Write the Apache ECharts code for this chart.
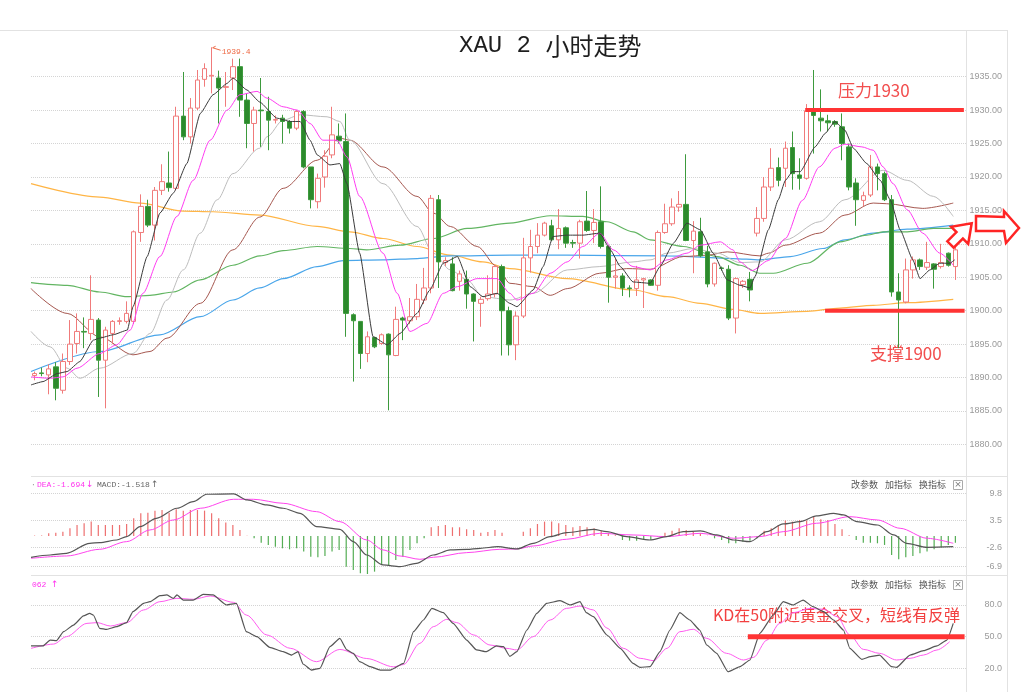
<!DOCTYPE html>
<html><head><meta charset="utf-8">
<script src="https://cdn.jsdelivr.net/npm/echarts@6/dist/echarts.min.js"></script>
<style>html,body{margin:0;padding:0;background:#fff}#c{width:1024px;height:692px}</style>
</head><body><div id="c"></div>
<script>
// ---------- candles (2-hour XAU) ----------
const opens = [1890.3,1890.7,1890.4,1891.6,1888.1,1892.4,1895.1,1896.9,1896.6,1898.6,
1892.6,1896.6,1898.4,1898.4,1898.4,1911.7,1915.6,1912.8,1918.0,1919.1,
1918.3,1929.1,1926.0,1930.3,1934.6,1935.1,1934.8,1933.4,1934.8,1936.5,
1931.5,1928.0,1930.0,1929.8,1928.5,1928.8,1928.3,1927.3,1929.8,1921.5,
1916.3,1920.0,1923.3,1926.1,1925.3,1899.4,1898.4,1893.6,1896.0,1895.1,
1896.5,1893.3,1898.9,1898.5,1899.1,1901.6,1903.4,1916.6,1907.2,1907.0,
1904.4,1904.7,1902.5,1901.1,1901.8,1902.5,1906.6,1900.0,1894.9,1899.2,
1907.9,1909.6,1911.3,1912.7,1910.6,1912.4,1910.2,1910.1,1913.4,1912.0,
1913.3,1909.6,1905.0,1905.2,1903.4,1903.3,1904.6,1904.6,1903.8,1911.7,
1913.0,1915.5,1915.9,1910.5,1911.8,1908.8,1904.0,1906.4,1906.2,1898.9,
1903.9,1904.7,1911.6,1913.8,1918.5,1921.4,1921.3,1924.4,1920.3,1919.8,
1930.0,1928.8,1928.4,1928.3,1927.5,1924.5,1919.1,1916.5,1917.3,1921.5,
1920.5,1916.6,1902.8,1901.3,1906.1,1907.6,1906.5,1907.0,1906.6,1908.6,
1906.6];
const closes = [1890.6,1890.6,1891.3,1888.4,1892.4,1895.0,1896.9,1896.8,1898.7,1892.6,
1897.1,1898.4,1898.5,1899.6,1911.8,1915.6,1912.8,1918.0,1919.3,1918.4,
1929.1,1926.0,1930.3,1934.5,1936.2,1935.2,1933.3,1933.5,1936.5,1931.5,
1928.0,1930.0,1929.9,1928.5,1928.6,1928.3,1927.3,1929.8,1921.5,1916.6,
1919.8,1923.1,1926.3,1925.4,1899.6,1898.5,1893.6,1896.1,1894.6,1896.4,
1893.4,1898.7,1898.6,1899.1,1901.7,1903.4,1916.8,1907.3,1907.5,1903.0,
1905.5,1902.5,1901.4,1901.7,1902.5,1906.6,1900.0,1894.9,1899.2,1907.9,
1909.6,1911.3,1913.1,1910.6,1912.3,1910.1,1910.1,1913.3,1912.0,1913.2,
1909.6,1905.0,1905.2,1903.4,1903.3,1904.6,1904.8,1903.8,1911.7,1913.0,
1915.5,1915.9,1910.5,1911.9,1908.2,1904.0,1907.1,1906.3,1898.9,1904.8,
1904.4,1903.1,1913.8,1918.5,1921.3,1919.5,1924.3,1920.5,1919.8,1929.9,
1929.2,1928.4,1928.1,1927.9,1925.0,1918.5,1916.6,1917.2,1921.5,1920.5,
1916.6,1902.8,1901.6,1906.1,1907.6,1906.6,1907.2,1906.2,1907.2,1906.8,
1909.1];
const lows = [1889.6,1890.2,1887.5,1886.6,1887.6,1891.9,1893.6,1894.4,1895.6,1887.1,
1885.4,1895.0,1897.9,1898.1,1898.0,1910.3,1912.5,1910.5,1917.3,1917.8,
1918.0,1925.5,1925.0,1930.0,1933.5,1932.5,1928.0,1930.5,1933.0,1929.0,
1924.3,1923.8,1924.5,1924.0,1928.0,1925.0,1926.5,1927.0,1921.3,1915.3,
1915.3,1918.4,1922.8,1925.0,1896.1,1889.4,1891.3,1892.3,1894.4,1894.9,
1885.1,1893.2,1895.6,1898.0,1898.6,1901.0,1902.6,1903.4,1906.7,1902.9,
1903.0,1900.3,1895.4,1897.6,1901.5,1902.0,1893.3,1893.3,1892.6,1898.9,
1905.7,1908.6,1911.1,1910.4,1909.2,1909.4,1909.4,1907.8,1911.8,1910.1,
1909.3,1901.2,1903.3,1902.2,1902.0,1902.2,1900.4,1903.7,1903.0,1911.5,
1912.7,1914.8,1910.4,1905.6,1908.0,1903.5,1903.6,1906.0,1898.6,1896.6,
1903.4,1901.4,1911.1,1913.3,1917.9,1918.6,1918.5,1918.1,1918.1,1919.6,
1923.5,1926.8,1926.8,1927.5,1922.5,1918.0,1912.7,1915.6,1917.0,1918.0,
1916.4,1902.1,1894.4,1901.1,1904.8,1906.1,1906.1,1903.3,1906.3,1906.6,
1904.6];
const highs = [1890.9,1891.5,1892.0,1892.3,1893.6,1898.6,1899.6,1899.0,1905.3,1898.9,
1897.6,1898.6,1899.0,1901.4,1912.0,1917.4,1916.6,1918.5,1921.9,1923.8,
1930.5,1935.7,1931.8,1936.0,1937.0,1939.4,1935.9,1935.7,1937.7,1937.7,
1932.5,1930.5,1934.8,1932.0,1929.2,1929.3,1928.5,1930.0,1930.0,1921.5,
1920.5,1924.0,1930.5,1928.0,1929.5,1899.6,1898.4,1896.9,1896.1,1896.6,
1896.6,1900.6,1899.1,1901.9,1904.0,1906.4,1917.3,1917.3,1908.0,1908.0,
1906.0,1906.0,1902.6,1902.1,1905.3,1906.9,1906.9,1900.6,1899.9,1910.9,
1912.1,1913.1,1913.3,1913.6,1915.2,1912.6,1910.6,1913.6,1917.9,1915.2,
1918.6,1909.8,1907.8,1905.6,1903.8,1906.7,1904.9,1904.7,1912.0,1916.0,
1916.8,1917.9,1923.4,1913.4,1913.9,1909.7,1907.2,1906.6,1906.8,1905.0,
1904.6,1905.8,1915.5,1920.0,1924.3,1922.9,1925.3,1926.8,1922.8,1930.9,
1936.0,1933.1,1929.3,1928.5,1929.5,1925.0,1919.8,1917.8,1923.3,1922.0,
1920.8,1917.3,1905.6,1907.8,1908.1,1907.8,1910.3,1907.1,1910.0,1908.7,
1909.8];

// ---------- moving averages: [candle index, price] ----------
const maBlack = [[-0.5,1888.9],[1.2,1889.4],[3.2,1890.6],[4.6,1890.9],[6.4,1892.4],[8.3,1895.6],[9.2,1895.9],[11.1,1896.4],[13.1,1897.1],[13.9,1900.6],[15.9,1908.1],[17.7,1914.6],[19.6,1917.6],[21.5,1922.0],[23.4,1929.5],[25.2,1932.3],[27.2,1934.0],[28.0,1934.8],[30.0,1933.0],[31.8,1931.2],[34.2,1928.8],[36.1,1928.3],[37.5,1928.3],[38.9,1925.5],[39.9,1923.3],[41.7,1921.8],[43.1,1922.0],[44.1,1919.0],[45.9,1908.6],[47.8,1896.1],[49.8,1894.9],[51.6,1896.6],[54.0,1899.6],[55.8,1903.1],[57.7,1907.1],[59.7,1908.1],[61.5,1903.6],[63.3,1902.1],[65.3,1902.6],[67.1,1901.1],[68.1,1900.6],[70.4,1903.1],[71.8,1906.6],[73.2,1911.1],[75.2,1911.3],[77.4,1911.3],[79.8,1911.6],[81.3,1909.1],[82.7,1906.6],[84.5,1904.3],[86.9,1904.1],[88.3,1906.6],[90.2,1910.1],[92.1,1913.1],[94.0,1912.1],[95.8,1908.6],[97.8,1904.6],[99.6,1903.8],[101.0,1903.4],[101.7,1905.1],[103.6,1912.1],[105.0,1916.6],[106.0,1919.5],[107.0,1920.8],[108.1,1920.8],[110.2,1924.5],[111.6,1926.5],[113.0,1928.3],[114.4,1927.0],[115.6,1924.3],[117.5,1922.0],[119.4,1919.5],[120.8,1916.6],[122.2,1912.1],[124.0,1907.6],[125.0,1904.8],[126.4,1906.1],[127.8,1907.1],[129.2,1907.1],[129.9,1907.6]];
const maPink = [[-0.5,1890.1],[2.2,1889.9],[4.0,1890.1],[6.0,1891.4],[9.2,1893.6],[11.6,1894.9],[13.5,1897.1],[15.3,1902.6],[17.7,1908.1],[20.1,1914.1],[22.4,1919.5],[24.8,1925.5],[27.2,1930.0],[29.0,1932.3],[31.4,1932.8],[32.8,1931.8],[35.1,1930.5],[37.1,1930.0],[38.9,1928.0],[40.7,1925.5],[42.7,1925.5],[44.1,1923.0],[45.9,1917.1],[49.2,1908.6],[51.2,1902.6],[53.0,1896.9],[55.4,1898.1],[57.7,1902.6],[59.7,1903.6],[62.5,1904.8],[65.3,1904.8],[67.1,1902.6],[68.1,1901.6],[70.4,1902.6],[72.8,1905.6],[75.2,1907.3],[77.4,1909.6],[79.8,1911.6],[81.7,1909.1],[84.5,1906.6],[86.9,1906.1],[89.3,1907.6],[92.1,1908.6],[94.0,1909.8],[96.8,1910.3],[98.6,1909.1],[99.6,1907.3],[101.3,1906.0],[103.6,1907.5],[106.0,1910.8],[108.4,1916.5],[110.8,1921.5],[113.0,1924.3],[114.4,1924.9],[116.8,1924.5],[118.4,1924.0],[119.8,1921.5],[121.2,1919.0],[123.2,1915.1],[125.4,1911.6],[127.8,1908.6],[129.7,1906.8]];
const maGray = [[-0.5,1896.9],[2.2,1894.6],[4.6,1891.4],[6.4,1889.9],[9.2,1891.4],[13.9,1893.6],[16.3,1896.6],[18.7,1901.6],[21.0,1906.1],[23.4,1911.6],[25.8,1916.6],[28.0,1920.5],[31.8,1924.3],[32.8,1926.0],[35.1,1928.5],[37.5,1929.3],[41.3,1929.0],[43.1,1928.3],[44.5,1925.5],[49.2,1919.0],[54.0,1912.6],[56.3,1908.6],[58.7,1906.1],[61.1,1904.6],[63.3,1902.1],[67.1,1901.6],[70.4,1902.6],[75.2,1906.1],[79.8,1906.6],[84.5,1907.3],[86.9,1907.6],[89.3,1908.6],[93.0,1909.3],[96.4,1908.6],[99.6,1907.2],[102.4,1907.3],[106.0,1910.6],[110.8,1913.3],[114.4,1916.6],[119.8,1921.0],[123.2,1919.5],[126.9,1917.1],[129.7,1914.1]];
const maBrown = [[-0.5,1903.3],[4.6,1899.6],[9.2,1896.1],[13.9,1893.4],[16.3,1893.9],[18.7,1895.9],[23.4,1901.1],[28.0,1909.1],[31.8,1914.0],[35.1,1918.3],[39.9,1922.5],[43.1,1925.8],[44.5,1925.5],[49.2,1921.5],[54.0,1917.1],[56.3,1914.6],[58.7,1912.6],[62.5,1909.6],[65.3,1906.6],[67.1,1904.1],[70.4,1903.6],[72.8,1902.3],[75.2,1903.3],[79.8,1905.6],[83.6,1906.3],[86.9,1906.2],[91.6,1908.1],[95.0,1908.3],[97.8,1908.8],[102.4,1908.2],[103.6,1908.6],[106.0,1909.8],[110.8,1911.6],[114.4,1914.3],[118.4,1916.1],[120.3,1916.0],[125.4,1915.3],[129.7,1916.1]];
const maGreen = [[-0.5,1904.2],[4.6,1903.8],[9.2,1902.8],[13.1,1902.1],[16.3,1902.3],[19.6,1902.8],[23.4,1904.6],[28.0,1906.8],[31.8,1908.2],[35.1,1909.0],[39.9,1909.6],[44.5,1909.3],[46.9,1909.1],[51.6,1909.8],[56.3,1910.8],[61.1,1912.3],[67.1,1913.1],[72.8,1914.2],[77.4,1914.1],[80.8,1913.3],[84.5,1911.8],[86.9,1910.6],[91.6,1909.6],[96.4,1908.1],[99.6,1906.8],[102.4,1905.6],[104.3,1905.6],[109.1,1907.1],[113.7,1910.3],[117.5,1911.3],[119.8,1911.8],[123.2,1911.8],[126.9,1912.3],[129.7,1912.3]];
const maBlue = [[-0.5,1890.9],[9.2,1893.9],[17.7,1896.4],[23.4,1899.1],[28.0,1901.6],[31.8,1903.4],[35.1,1904.8],[39.9,1906.6],[43.6,1907.5],[49.2,1907.6],[54.0,1907.8],[58.7,1908.2],[67.1,1908.3],[75.2,1908.3],[89.3,1908.2],[98.6,1907.8],[102.4,1907.6],[106.7,1908.1],[111.3,1909.3],[114.4,1910.6],[118.4,1911.6],[123.2,1912.2],[129.7,1912.8]];
const maOrange = [[-0.5,1919.0],[9.2,1917.0],[14.9,1916.1],[21.0,1914.9],[25.2,1914.8],[31.8,1914.3],[39.9,1912.6],[44.5,1911.8],[49.2,1910.8],[54.0,1909.6],[58.7,1908.3],[63.3,1907.3],[67.1,1906.3],[75.2,1904.8],[84.5,1903.1],[89.3,1902.1],[94.0,1901.1],[98.6,1900.2],[102.4,1899.6],[109.1,1899.9],[113.7,1900.4],[118.4,1900.8],[123.2,1901.2],[129.7,1901.7]];

// ---------- MACD ----------
const macdHist = [0.1,0.1,0.61,0.76,0.99,1.76,2.52,2.9,3.29,2.52,
2.52,2.52,2.52,2.75,4.05,5.2,5.35,5.81,5.96,5.35,
6.12,5.81,5.96,5.96,5.81,5.2,4.05,3.06,2.52,1.38,
0.05,-0.54,-1.53,-2.06,-2.45,-2.83,-3.06,-2.83,-3.59,-4.74,
-4.89,-4.59,-3.59,-3.21,-7.03,-7.8,-8.56,-8.72,-8.18,-6.65,
-6.65,-5.5,-4.74,-3.21,-1.68,-0.54,1.99,2.29,2.52,1.99,
1.99,1.53,1.38,0.76,0.92,1.38,0.76,0,0,0.99,
1.76,2.75,3.29,3.29,2.9,2.52,1.99,2.29,1.99,1.76,
1.22,0.61,0.15,-0.92,-1.07,-1.07,-0.92,-0.92,-0.15,0.76,
1.22,1.76,1.38,0.99,0.61,0.05,-0.54,-0.92,-1.68,-1.68,
-1.3,-1.07,-0.54,1.22,1.76,2.52,3.52,3.29,3.67,3.52,
4.43,3.82,3.67,2.75,1.53,0.15,-0.92,-1.53,-1.53,-1.68,
-2.06,-4.36,-5.35,-4.89,-4.59,-3.98,-3.59,-3.06,-2.6,-2.06,
-1.53];
const macdDif = [[-0.5,-4.89],[2.2,-4.36],[4.5,-3.98],[7.8,-1.68],[9.2,-1.53],[11.6,-0.92],[13.0,-0.15],[14.9,2.14],[17.2,4.05],[20.1,6.35],[22.4,7.87],[24.3,9.56],[28.1,9.63],[30.0,8.26],[32.8,7.11],[35.1,6.35],[37.5,5.2],[39.8,2.14],[43.1,1.53],[45.0,-1.3],[46.9,-4.36],[49.2,-6.65],[51.6,-7.03],[53.9,-6.27],[56.3,-4.36],[58.7,-3.21],[61.0,-3.06],[62.9,-2.83],[65.4,-2.45],[68.1,-2.98],[70.4,-1.68],[72.8,-0.15],[75.1,0.76],[78.9,1.53],[80.8,0.99],[83.6,-0.15],[86.9,-0.92],[89.2,-0.15],[91.6,0.99],[94.0,1.15],[96.3,0.23],[98.7,-0.92],[101.0,-1.3],[103.4,0.99],[105.7,2.75],[108.1,3.29],[110.4,4.59],[112.8,5.2],[114.2,4.82],[116.1,3.29],[119.0,2.52],[121.3,0.23],[123.1,-1.68],[126.0,-2.6],[129.7,-2.45]];
const macdDea = [[-0.5,-5.12],[4.5,-4.59],[9.2,-3.06],[13.0,-1.3],[16.3,1.38],[19.6,3.67],[23.4,6.35],[28.1,8.41],[30.9,8.41],[35.1,7.49],[39.8,5.58],[43.1,3.29],[46.9,-0.92],[49.2,-3.21],[51.6,-4.59],[54.4,-5.35],[56.3,-4.89],[61.0,-3.82],[65.7,-3.06],[68.1,-2.98],[70.4,-2.29],[75.1,-0.76],[79.8,0.61],[84.5,0.23],[89.2,-0.15],[94.0,0.61],[98.7,-0.53],[102.4,-0.15],[105.7,0.99],[110.4,2.91],[115.1,4.43],[119.0,3.67],[122.2,1.76],[126.0,-0.53],[129.7,-1.68]];

// ---------- KD ----------
const kdK = [[-0.5,41.2],[1.2,41.2],[2.2,46.8],[3.1,46.2],[4.1,54.7],[5.5,61.0],[6.9,69.6],[7.8,72.1],[8.3,70.5],[9.2,57.9],[10.2,56.9],[11.6,59.5],[13.0,63.3],[13.9,73.7],[15.4,81.6],[16.3,83.1],[17.7,88.8],[18.7,89.5],[19.6,86.3],[20.1,89.5],[21.0,84.7],[22.4,84.7],[23.8,90.1],[25.2,89.5],[27.1,80.0],[28.5,81.6],[29.9,54.7],[31.4,50.0],[33.2,39.9],[35.1,35.8],[36.3,32.6],[37.2,35.8],[37.9,24.1],[39.1,18.4],[40.3,20.0],[41.7,40.5],[43.1,48.4],[44.1,37.4],[45.0,34.2],[45.9,26.3],[47.4,21.6],[48.8,18.4],[50.2,18.4],[52.1,24.7],[53.5,54.7],[54.9,65.8],[56.1,76.8],[57.7,72.7],[59.1,62.6],[61.0,46.8],[62.4,37.4],[63.8,35.8],[65.2,41.2],[66.2,40.5],[67.1,31.4],[68.1,35.8],[69.5,56.3],[70.9,72.1],[72.3,81.6],[74.2,84.1],[75.6,80.0],[77.0,83.1],[77.9,72.7],[78.9,68.9],[80.8,51.6],[82.7,38.9],[84.5,24.7],[85.5,20.9],[86.9,21.6],[88.3,35.8],[89.7,56.3],[91.1,72.7],[92.5,65.8],[93.9,56.3],[94.9,42.1],[96.3,34.2],[97.9,16.8],[99.6,21.6],[101.0,27.9],[102.4,53.2],[104.3,70.5],[105.7,83.1],[107.1,80.0],[108.5,84.7],[109.9,78.4],[111.4,73.7],[112.8,65.8],[114.2,56.3],[115.1,38.9],[116.8,28.5],[118.0,31.1],[119.3,32.6],[121.0,21.6],[121.7,20.9],[123.6,32.6],[125.5,36.7],[127.4,41.2],[128.8,46.8],[129.7,62.6]];
const kdD = [[-0.5,38.9],[2.7,43.0],[4.5,50.0],[7.4,62.6],[8.8,63.3],[10.7,60.1],[13.0,63.3],[15.4,75.3],[17.7,83.1],[20.1,86.3],[22.4,85.4],[24.8,88.5],[28.1,82.5],[29.9,70.5],[32.8,51.6],[36.1,39.0],[39.8,26.3],[43.1,37.9],[46.9,29.3],[50.7,21.4],[52.1,23.6],[54.4,43.7],[56.3,59.5],[58.2,66.4],[59.6,63.3],[62.0,51.6],[64.3,42.1],[66.7,38.9],[68.1,37.4],[70.4,50.0],[72.8,65.8],[75.1,76.8],[77.0,79.0],[78.9,75.3],[80.8,58.2],[83.1,39.0],[85.5,29.5],[87.4,27.3],[89.3,39.0],[91.1,54.7],[93.0,57.0],[94.9,48.4],[97.7,34.2],[100.1,27.9],[101.5,30.4],[103.4,46.8],[105.2,62.6],[107.1,72.7],[109.5,76.8],[111.4,75.9],[113.3,69.0],[115.1,51.6],[117.0,38.0],[119.3,34.2],[121.7,27.9],[123.6,29.5],[125.5,32.6],[127.4,37.4],[129.2,45.3]];

// ---------- ticks & annotations ----------
const priceTicks = [1880,1885,1890,1895,1900,1905,1910,1915,1920,1925,1930,1935];
const macdTicks = [9.8,3.5,-2.6,-6.9];
const kdTicks = [20,50,80];
const highMark = [25, 1939.4];
const resistanceLine = [[108.8,1930],[131.2,1930]];
const supportLine = [[111.6,1900],[131.3,1900]];
const kdLine = [[100.7,50],[131.3,50]];

// ---------- build ----------
const categories = opens.map((_, i) => String(i + 1)).concat(['']);
const candleData = opens.map((o, i) => [o, closes[i], lows[i], highs[i]]);
const xMax = categories.length - 0.5;
const chart = echarts.init(document.getElementById('c'));

const yAx = (gridIndex, min, max, ticks, digits) => ({
  type: 'value', gridIndex, position: 'right', min, max, scale: true,
  axisLine: {show: false},
  axisTick: {show: false, customValues: ticks},
  axisLabel: {customValues: ticks, color: '#9a9a9a', fontSize: 9, fontFamily: 'Liberation Sans',
              align: 'right', margin: 36, formatter: v => Number(v).toFixed(digits)},
  splitLine: {show: true, lineStyle: {color: '#d4d4d4', type: 'dotted', width: 1}}
});
const valX = gi => ({type: 'value', gridIndex: gi, min: -0.5, max: xMax, show: false});
const ln = (data, color, xi, yi, width, smooth, z) => ({
  type: 'line', data, xAxisIndex: xi, yAxisIndex: yi, symbol: 'none', silent: true,
  smooth: smooth, smoothMonotone: 'x', lineStyle: {color, width}, z: z || 3
});

const option = {
  animation: false,
  backgroundColor: '#fff',
  title: {
    text: '{a|XAU 2 }{b|小时走势}', left: 459, top: 31, padding: 0,
    textStyle: {fontWeight: 'normal', rich: {
      a: {fontFamily: 'Liberation Mono', fontSize: 24, fontWeight: 'normal', color: '#1e1e1e', lineHeight: 30},
      b: {fontFamily: 'Noto Sans CJK SC', fontSize: 24, fontWeight: 'normal', color: '#1e1e1e', lineHeight: 30}
    }}
  },
  grid: [
    {left: 31, right: 58, top: 30, height: 446},
    {left: 31, right: 58, top: 476, height: 99},
    {left: 31, right: 58, top: 575, height: 117}
  ],
  xAxis: [
    {type: 'category', gridIndex: 0, data: categories, show: false},
    valX(0),
    {type: 'category', gridIndex: 1, data: categories, show: false},
    valX(1),
    valX(2)
  ],
  yAxis: [
    yAx(0, 1875.28, 1941.98, priceTicks, 2),
    yAx(1, -8.95, 13.75, macdTicks, 1),
    yAx(2, -2.4, 108.4, kdTicks, 1)
  ],
  series: [
    ln(maOrange, '#ffb546', 1, 0, 1.2, 0.3),
    ln(maBlue, '#4aa6ea', 1, 0, 1.2, 0.3),
    ln(maGreen, '#62b562', 1, 0, 1.2, 0.3),
    ln(maBrown, '#a65850', 1, 0, 1, 0.3),
    ln(maGray, '#bdbdbd', 1, 0, 1, 0.3),
    {
      type: 'candlestick', data: candleData, xAxisIndex: 0, yAxisIndex: 0, barWidth: 5, z: 4,
      itemStyle: {color: '#ffffff', color0: '#2c8a2c', borderColor: '#f07b7b', borderColor0: '#3d9a3d', borderWidth: 1}
    },
    ln(maPink, '#ff3cf2', 1, 0, 1, 0.25, 5),
    ln(maBlack, '#3a3a3a', 1, 0, 1, 0.15, 5),
    ln(resistanceLine, '#ff3434', 1, 0, 4, false, 8),
    ln(supportLine, '#ff3434', 1, 0, 4, false, 8),
    {
      type: 'bar', data: macdHist, xAxisIndex: 2, yAxisIndex: 1, barWidth: 1.2, silent: true,
      itemStyle: {color: p => p.value >= 0 ? '#ee6f6f' : '#54ad54'}
    },
    ln(macdDea, '#ff44ee', 3, 1, 1, 0.3, 5),
    ln(macdDif, '#555555', 3, 1, 1.2, 0.3, 5),
    ln(kdD, '#ff5cf0', 4, 2, 1, 0.3, 5),
    ln(kdK, '#555555', 4, 2, 1.2, 0.15, 5),
    ln(kdLine, '#ff3434', 4, 2, 5, false, 8)
  ]
};
chart.setOption(option);

// annotations (high marker derived from the data through the axes)
const hp = chart.convertToPixel({xAxisIndex: 0, yAxisIndex: 0}, highMark);
const grey = '#e2e2e2';
const txt = (x, y, text, fill, size, family, extra) => ({
  type: 'text', x, y, silent: true,
  style: Object.assign({text, fill, fontSize: size, fontFamily: family, verticalAlign: 'middle'}, extra || {})
});
const lineEl = (x1, y1, x2, y2, stroke, w) => ({type: 'line', silent: true, shape: {x1, y1, x2, y2}, style: {stroke, lineWidth: w || 1}});
const graphics = [
  lineEl(0, 30.5, 1007, 30.5, grey),
  lineEl(31, 476.5, 1007, 476.5, grey),
  lineEl(31, 575.5, 1007, 575.5, grey),
  lineEl(966.5, 30, 966.5, 692, grey),
  lineEl(1007.5, 30, 1007.5, 692, grey),
  // high marker
  lineEl(hp[0] + 1, hp[1] + 0.5, hp[0] + 9, hp[1] + 3, '#ee6a45'),
  lineEl(hp[0] + 1, hp[1] + 0.5, hp[0] + 4, hp[1] - 1, '#ee6a45'),
  txt(hp[0] + 10, hp[1] + 5, String(highMark[1]), '#ee6a45', 8, 'Liberation Mono'),
  // labels
  txt(838, 91, '压力1930', '#f24e4e', 17, 'Noto Sans CJK SC'),
  txt(870, 354, '支撑1900', '#f24e4e', 17, 'Noto Sans CJK SC'),
  txt(713, 615, 'KD在50附近黄金交叉，短线有反弹', '#f24040', 16, 'Noto Sans CJK SC'),
  // MACD header
  txt(31, 485, '·', '#999', 8, 'Liberation Mono'),
  txt(37, 485, 'DEA:-1.694', '#ff33ee', 8, 'Liberation Mono'),
  txt(86, 485, '↓', '#ff33ee', 9, 'DejaVu Sans'),
  txt(97, 485, 'MACD:-1.518', '#666', 8, 'Liberation Mono'),
  txt(151, 485, '↑', '#666', 9, 'DejaVu Sans'),
  // KD header
  txt(32, 585, '062', '#ff33ee', 8, 'Liberation Mono'),
  txt(51, 585, '↑', '#ff33ee', 9, 'DejaVu Sans')
];
[485, 585].forEach(y => {
  graphics.push(txt(851, y, '改参数', '#555', 9, 'Noto Sans CJK SC'));
  graphics.push(txt(885, y, '加指标', '#555', 9, 'Noto Sans CJK SC'));
  graphics.push(txt(919, y, '换指标', '#555', 9, 'Noto Sans CJK SC'));
  graphics.push({type: 'rect', silent: true, shape: {x: 953.5, y: y - 4.5, width: 9, height: 9}, style: {fill: '#fff', stroke: '#aaa', lineWidth: 1}});
  graphics.push(txt(958, y, '×', '#777', 9, 'DejaVu Sans', {align: 'center'}));
});
// hollow red arrows
graphics.push({type: 'polygon', silent: true, z: 20,
  shape: {points: [[947.3,241.3],[956.5,232.1],[951.2,226.8],[971.7,223.3],[968.2,243.8],[962.9,238.5],[953.7,247.7]]},
  style: {fill: '#fff', stroke: '#ff2424', lineWidth: 2.5, lineJoin: 'miter'}});
graphics.push({type: 'polygon', silent: true, z: 20,
  shape: {points: [[976,216],[1004,217],[1004,211],[1019,228],[1006,243],[1004,231],[976,231]]},
  style: {fill: '#fff', stroke: '#ff2424', lineWidth: 2.5, lineJoin: 'miter'}});
chart.setOption({graphic: graphics});
</script>
</body></html>
